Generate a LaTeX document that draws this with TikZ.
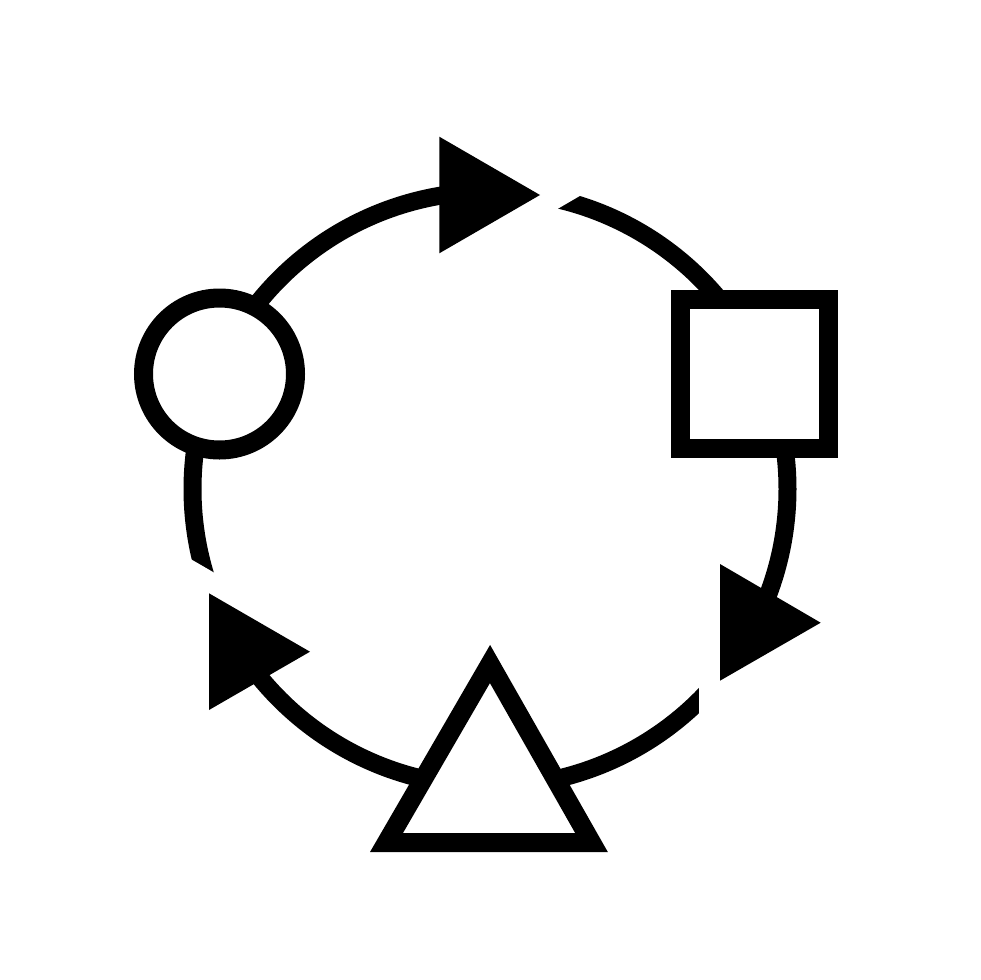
\documentclass[tikz,border=0pt]{standalone}
\begin{document}
\begin{tikzpicture}[x=1pt,y=-1pt,
  ring/.style={line width=18pt, draw=black, line cap=butt},
  outline/.style={line width=19pt, draw=black, fill=white, line join=miter, miter limit=10},
  head/.style={fill=black},
  gapfill/.style={fill=white, draw=none}]
\useasboundingbox (0,0) rectangle (980,980);
\fill[white] (0,0) rectangle (980,980);
\coordinate (O) at (490,489);
% ring arcs
\draw[ring] (O) ++(162:297.5) arc[start angle=162, end angle=268, radius=297.5];
\draw[ring] (O) ++(-78:297.5) arc[start angle=-78, end angle=30, radius=297.5];
\draw[ring] (O) ++(42:297.5) arc[start angle=42, end angle=146, radius=297.5];
% gaps
\fill[gapfill] (520,206.7) -- (590,165.9) -- (590,190) -- (520,230.8) -- cycle;
\fill[gapfill] (699,665) rectangle (719.9,730);
\fill[gapfill] (180,576.5) -- (235,608.3) -- (235,584.7) -- (180,552.9) -- cycle;
% shapes
\draw[outline] (219.5,374) circle[radius=76];
\draw[outline] (680.5,299.5) rectangle (828.5,448.5);
\draw[outline] (490,664) -- (591.5,842.5) -- (386.5,842.5) -- cycle;
% arrowheads
\fill[head] (439.3,136.7) -- (540,195) -- (439.3,253.3) -- cycle;
\fill[head] (720,564) -- (820.7,622.7) -- (720,680.7) -- cycle;
\fill[head] (209,593.3) -- (310,651.7) -- (209,710) -- cycle;
\end{tikzpicture}
\end{document}
